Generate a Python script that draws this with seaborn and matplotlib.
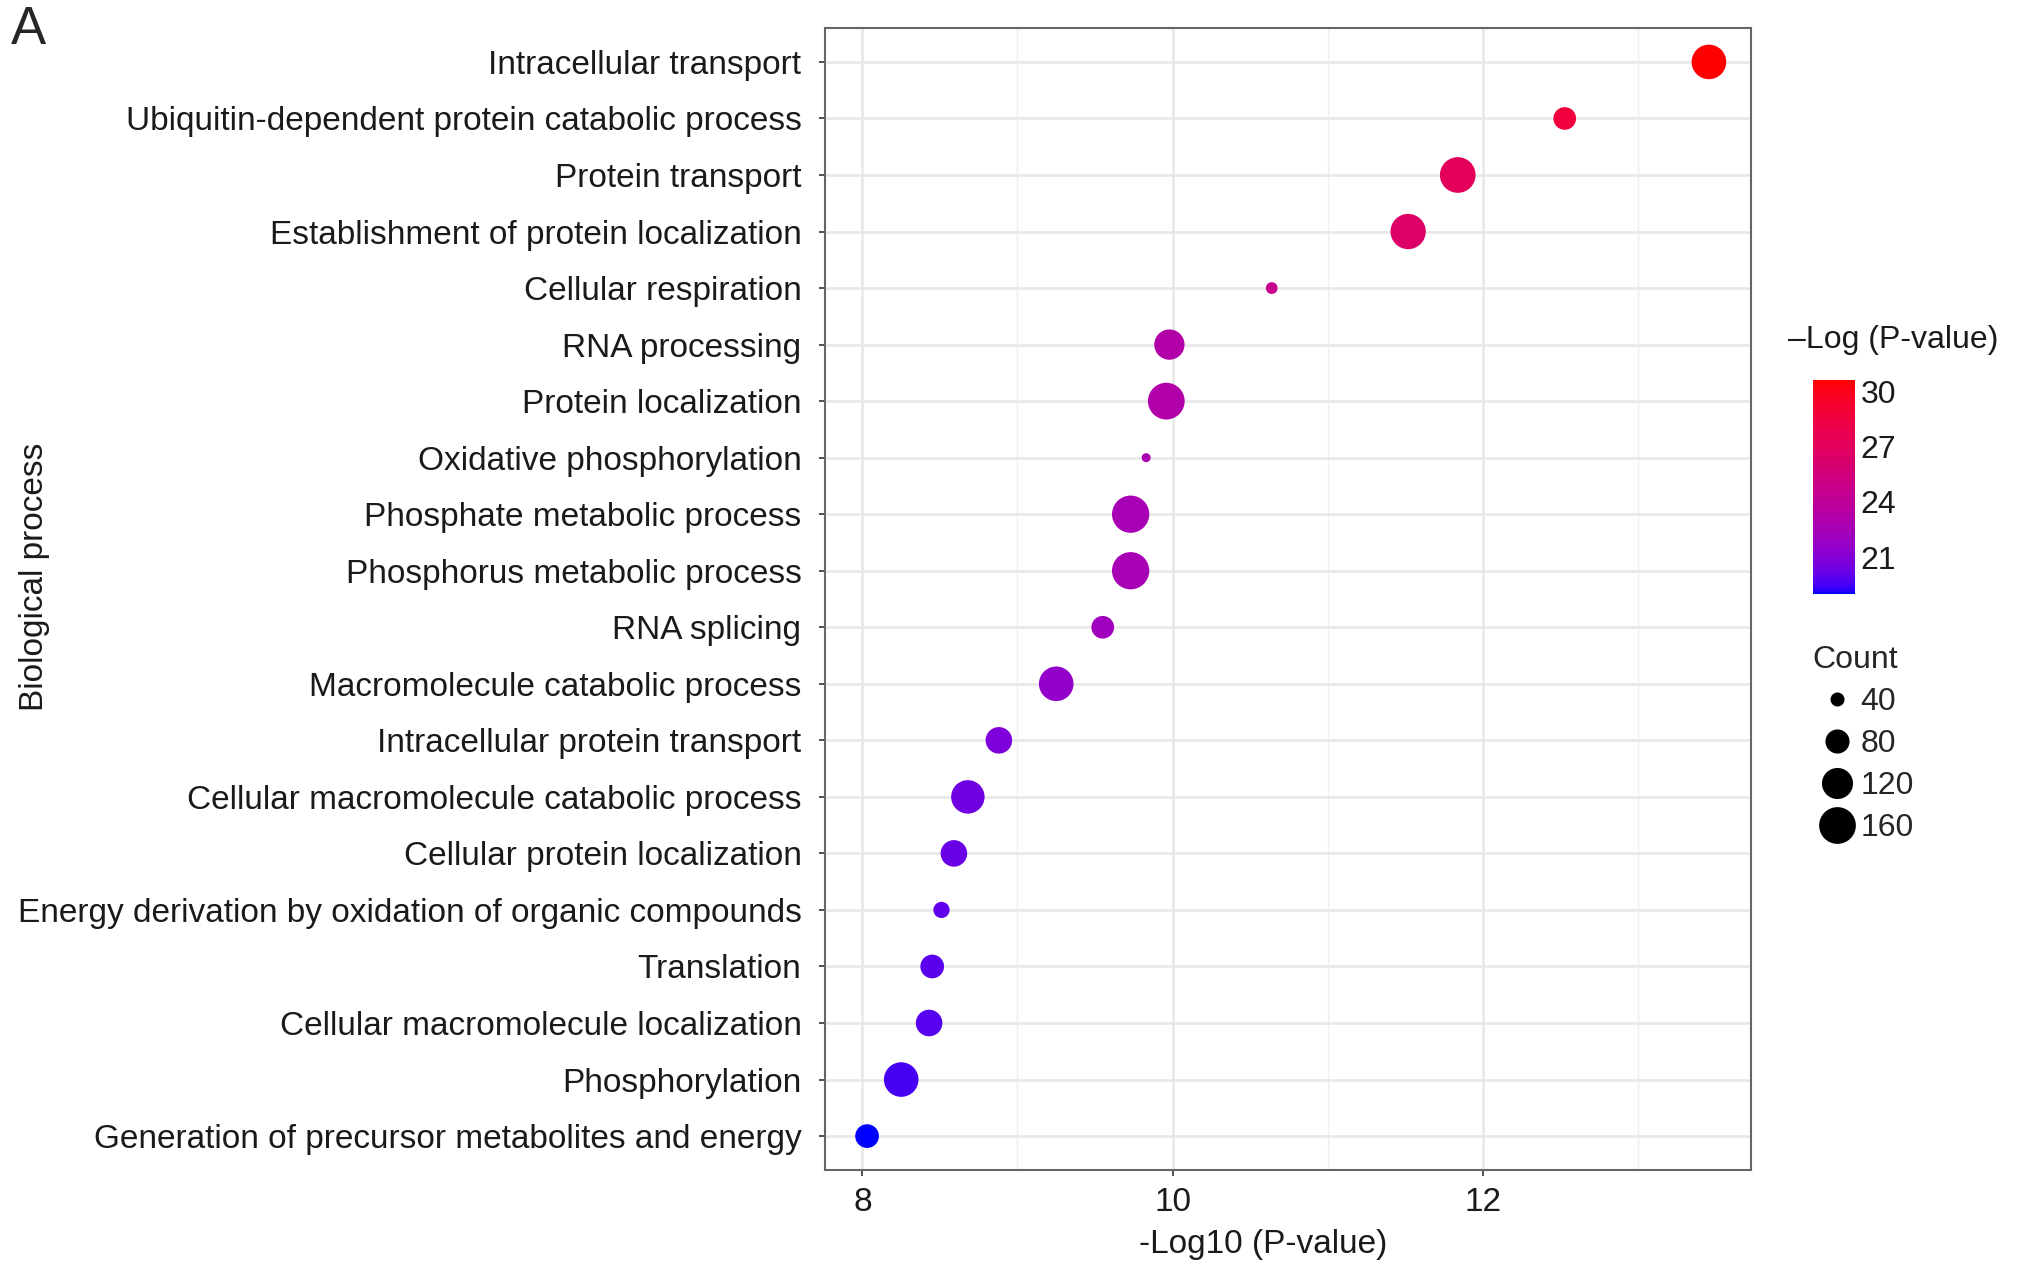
import numpy as np
import pandas as pd
import matplotlib
matplotlib.use('Agg')
import matplotlib.pyplot as plt
import seaborn as sns
from matplotlib.colors import ListedColormap, Normalize
from matplotlib.lines import Line2D
from matplotlib.ticker import MultipleLocator

# GO biological process terms, top to bottom
terms = [
    "Intracellular transport",
    "Ubiquitin-dependent protein catabolic process",
    "Protein transport",
    "Establishment of protein localization",
    "Cellular respiration",
    "RNA processing",
    "Protein localization",
    "Oxidative phosphorylation",
    "Phosphate metabolic process",
    "Phosphorus metabolic process",
    "RNA splicing",
    "Macromolecule catabolic process",
    "Intracellular protein transport",
    "Cellular macromolecule catabolic process",
    "Cellular protein localization",
    "Energy derivation by oxidation of organic compounds",
    "Translation",
    "Cellular macromolecule localization",
    "Phosphorylation",
    "Generation of precursor metabolites and energy",
]
neg_log10_p = [13.46, 12.53, 11.84, 11.52, 10.64, 9.98, 9.96, 9.83, 9.73, 9.73,
               9.55, 9.25, 8.88, 8.68, 8.59, 8.51, 8.45, 8.43, 8.25, 8.03]
neg_log_p = [30.6, 28.6, 27.1, 26.5, 24.6, 23.2, 23.1, 22.8, 22.6, 22.6,
             22.2, 21.6, 20.8, 20.4, 20.2, 20.0, 19.9, 19.8, 19.5, 19.0]
gene_count = [144, 73, 152, 149, 34, 115, 160, 28, 164, 164,
              73, 144, 93, 136, 93, 47, 78, 93, 144, 78]

size_ticks = [40, 80, 120, 160]
color_ticks = [21, 24, 27, 30]

df = pd.DataFrame({"term": terms, "x": neg_log10_p,
                   "logp": neg_log_p, "count": gene_count})


# blue -> red gradient interpolated in Lab, like ggplot's scale_colour_gradient
M = np.array([[0.4124, 0.3576, 0.1805],
              [0.2126, 0.7152, 0.0722],
              [0.0193, 0.1192, 0.9505]])
WHITE = np.array([0.95047, 1.0, 1.08883])


def to_lab(rgb):
    rgb = np.asarray(rgb, float)
    lin = np.where(rgb <= 0.04045, rgb / 12.92, ((rgb + 0.055) / 1.055) ** 2.4)
    t = (M @ lin) / WHITE
    f = np.where(t > (6 / 29) ** 3, np.cbrt(t), t / (3 * (6 / 29) ** 2) + 4 / 29)
    return np.array([116 * f[1] - 16, 500 * (f[0] - f[1]), 200 * (f[1] - f[2])])


def from_lab(lab):
    L, a, b = lab.T
    fy = (L + 16) / 116
    f = np.stack([fy + a / 500, fy, fy - b / 200], axis=1)
    t = np.where(f > 6 / 29, f ** 3, 3 * (6 / 29) ** 2 * (f - 4 / 29))
    lin = np.clip((t * WHITE) @ np.linalg.inv(M).T, 0, 1)
    rgb = np.where(lin <= 0.0031308, 12.92 * lin, 1.055 * lin ** (1 / 2.4) - 0.055)
    return np.clip(rgb, 0, 1)


lo, hi = to_lab([0, 0, 1]), to_lab([1, 0, 0])
w = np.linspace(0, 1, 256)[:, None]
cmap = ListedColormap(from_lab(lo + (hi - lo) * w))
cnorm = Normalize(min(neg_log_p), max(neg_log_p))

# marker area (pt^2) linear in count
smin, smax = 42, 720
cmin, cmax = min(gene_count), max(gene_count)


def marker_area(c):
    return smin + (c - cmin) / (cmax - cmin) * (smax - smin)


sns.set_style("white")
plt.rcParams['font.family'] = ['Liberation Sans', 'DejaVu Sans']

W, H = 2031, 1274
fig = plt.figure(figsize=(W / 100, H / 100), dpi=100)
ax = fig.add_axes([825 / W, 1 - 1170 / H, 926 / W, 1142 / H])

sns.scatterplot(data=df, x="x", y="term", hue="logp", size="count",
                palette=cmap, hue_norm=cnorm, sizes=(smin, smax),
                size_norm=(cmin, cmax), linewidth=0, legend=False, ax=ax, zorder=3)

ax.set_ylim(len(terms) - 0.4, -0.6)
xr = max(neg_log10_p) - min(neg_log10_p)
ax.set_xlim(min(neg_log10_p) - 0.05 * xr, max(neg_log10_p) + 0.05 * xr)
ax.set_xticks([8, 10, 12])
ax.xaxis.set_minor_locator(MultipleLocator(1))
ax.set_axisbelow(True)
ax.grid(True, which="major", color="#e8e8e8", lw=1.9)
ax.grid(True, which="minor", axis="x", color="#efefef", lw=0.9)
for s in ax.spines.values():
    s.set_color("#666666")
    s.set_linewidth(1.5)
ax.tick_params(axis="both", which="major", length=4, width=1.2, color="#333333",
               labelsize=24, labelcolor="#1a1a1a", left=True, bottom=True)
ax.tick_params(axis="y", pad=13)
ax.tick_params(axis="x", pad=8)
ax.tick_params(axis="x", which="minor", length=0)
ax.set_xlabel("-Log10 (P-value)", fontsize=24, color="#1a1a1a", labelpad=12)
ax.xaxis.set_label_coords(0.473, -0.052)
ax.set_ylabel("")

fig.text(35 / W, 1 - 577 / H, "Biological process", rotation=90,
         ha="center", va="center", fontsize=24, color="#1a1a1a")
fig.text(11 / W, 1 - 30 / H, "A", ha="left", va="center", fontsize=38)

# colour bar
cax = fig.add_axes([1813 / W, 1 - 594 / H, 42 / W, 214 / H])
cb = fig.colorbar(plt.cm.ScalarMappable(norm=cnorm, cmap=cmap), cax=cax)
cb.outline.set_visible(False)
cb.set_ticks(color_ticks)
cax.tick_params(direction="in", length=6, width=1.2, color="white",
                left=True, right=True, labelsize=23, labelcolor="#1a1a1a", pad=4)
fig.text(1788 / W, 1 - 340 / H, "\u2013Log (P-value)", ha="left", va="center",
         fontsize=23, color="#1a1a1a")

# size legend
handles = [Line2D([], [], ls="", marker="o", color="black", markeredgewidth=0,
                  markersize=np.sqrt(marker_area(c))) for c in size_ticks]
leg = fig.legend(handles, [str(c) for c in size_ticks], title="Count",
                 loc="upper left", bbox_to_anchor=(1800 / W, 1 - 632 / H),
                 frameon=False, fontsize=23, title_fontsize=23,
                 handletextpad=0.0, labelspacing=0.38, borderaxespad=0,
                 alignment="left", handlelength=1.5)

fig.savefig("out.png", dpi=100)
